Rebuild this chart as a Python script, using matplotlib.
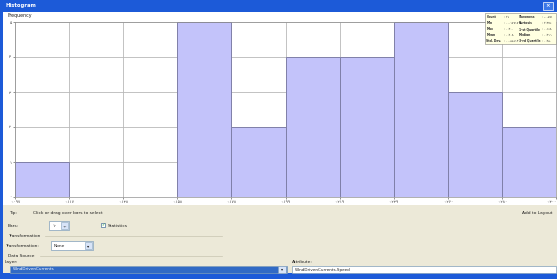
import matplotlib
matplotlib.use("Agg")
import matplotlib.pyplot as plt
from matplotlib.patches import Rectangle

# histogram data (10 bins)
counts = [1, 0, 0, 5, 2, 4, 4, 5, 3, 2]
edge_labels = ["۰.۰۹۷", "۰.۱۱۷", "۰.۱۳۸", "۰.۱۵۸", "۰.۱۷۸", "۰.۱۹۹",
               "۰.۲۱۹", "۰.۲۳۹", "۰.۲۶۰", "۰.۲۸۰", "۰.۳۰۰"]
y_labels = ["۰", "۱", "۲", "۳", "۴", "۵"]
stats_left = [("Count", ": ۲۶"), ("Min", ": ۰.۰۹۷۷۱۷"), ("Max", ": ۰.۳۰۰"),
              ("Mean", ": ۰.۲۰۸"), ("Std. Dev.", ": ۰.۰۵۵۶۱۳")]
stats_right = [("Skewness", ": -۰.۵۷۱"), ("Kurtosis", ": ۲.۳۷۶"),
               ("1-st Quartile", ": ۰.۱۶۸"), ("Median", ": ۰.۲۱۹"),
               ("3-rd Quartile", ": ۰.۲۵۰")]

W, H = 557, 279
fig = plt.figure(figsize=(W / 100, H / 100), dpi=100)
fig.patch.set_facecolor("white")

def box(x, y, w, h, fc, ec="none", lw=0.6, z=0):
    r = Rectangle((x / W, 1 - (y + h) / H), w / W, h / H, transform=fig.transFigure,
                  facecolor=fc, edgecolor=ec, linewidth=lw, zorder=z)
    fig.patches.append(r)

def txt(x, y, s, size=3.6, color="#202020", ha="left", weight="normal", z=3):
    fig.text(x / W, 1 - y / H, s, fontsize=size, color=color, ha=ha, va="center",
             weight=weight, zorder=z)

# window chrome
box(0, 0, W, 12, "#1C5AD8")
box(0, 0, 3, H, "#1C5AD8")
box(0, 273, W, 6, "#1C5AD8")
txt(6, 6, "Histogram", size=3.8, color="white", weight="bold")
box(543, 2, 10, 8, "#3B78E8", ec="white", lw=0.5)
txt(548, 6, "×", size=4, color="white", ha="center", weight="bold")

# beige control panel
box(3, 205, W - 3, 68, "#ECE9D8")
txt(8, 16, "Frequency", size=3.4)

# plot area
ax = fig.add_axes([15 / W, 1 - 197 / H, 541 / W, 175 / H])
xs = list(range(len(counts)))
ax.bar(xs, counts, width=1.0, align="edge", color="#C3C3FA",
       edgecolor="#7F7FA8", linewidth=0.7, zorder=2)
ax.set_xlim(0, len(counts))
ax.set_ylim(0, 5)
ax.set_xticks(range(len(edge_labels)))
ax.set_xticklabels(edge_labels, fontsize=3)
ax.get_xticklabels()[-1].set_horizontalalignment("right")
ax.set_yticks(range(len(y_labels)))
ax.set_yticklabels(y_labels, fontsize=3)
ax.tick_params(length=1.5, width=0.4, pad=1, colors="#404040")
ax.grid(True, color="#B8B8B8", linewidth=0.6, zorder=0)
for s in ax.spines.values():
    s.set_color("#909090")
    s.set_linewidth(0.5)
ax.set_xlabel("Speed (۱)", fontsize=3, labelpad=1, color="#404040")

# statistics box
box(485, 13, 71, 31, "#FFFFE1", ec="#808080", lw=0.4, z=5)
for i, (k, v) in enumerate(stats_left):
    y = 17.5 + i * 5.8
    txt(486.5, y, k, size=2.2, weight="bold", color="#303030", z=6)
    txt(504, y, v, size=2.2, color="#303030", z=6)
for i, (k, v) in enumerate(stats_right):
    y = 17.5 + i * 5.8
    txt(519, y, k, size=2.2, weight="bold", color="#303030", z=6)
    txt(542, y, v, size=2.2, color="#303030", z=6)

# controls
txt(9, 213, "Tip:", size=3.2)
txt(33, 213, "Click or drag over bars to select", size=3.2)
txt(522, 213, "Add to Layout", size=3.2)
txt(8, 226, "Bars:", size=3.2)
box(49, 221, 20, 9, "white", ec="#7F9DB9", lw=0.5)
txt(52, 226, "۱۰", size=3.2)
box(61, 222, 7, 7, "#D8E4F8", ec="#7F9DB9", lw=0.4)
txt(64.5, 226, "÷", size=3.2, ha="center")
box(101, 223, 4, 4, "white", ec="#1C5184", lw=0.4)
txt(103, 225, "✓", size=3, ha="center", color="#21A121")
txt(108, 226, "Statistics", size=3.2)
txt(8, 236, "Transformation", size=3.2)
fig.lines.append(plt.Line2D([45 / W, 222 / W], [1 - 236 / H] * 2, color="#C8C4B0",
                            linewidth=0.5, transform=fig.transFigure))
txt(5, 246, "Transformation:", size=3.2)
box(51, 241, 42, 9, "white", ec="#7F9DB9", lw=0.5)
txt(54, 246, "None", size=3.2)
box(85, 242, 7, 7, "#D8E4F8", ec="#7F9DB9", lw=0.4)
txt(88.5, 246, "▾", size=3.2, ha="center")
txt(8, 256, "Data Source", size=3.2)
fig.lines.append(plt.Line2D([40 / W, 222 / W], [1 - 256 / H] * 2, color="#C8C4B0",
                            linewidth=0.5, transform=fig.transFigure))
txt(5, 262, "Layer:", size=3.2)
box(10, 266, 277, 7, "#316AC5", ec="#7F9DB9", lw=0.5)
txt(13, 269.5, "WindDrivenCurrents", size=3, color="white")
box(278, 266, 8, 7, "#D8E4F8", ec="#7F9DB9", lw=0.4)
txt(282, 269.5, "▾", size=3, ha="center")
txt(292, 262, "Attribute:", size=3.2)
box(292, 266, 264, 7, "white", ec="#7F9DB9", lw=0.5)
txt(295, 269.5, "WindDrivenCurrents.Speed", size=3)

fig.savefig("out.png", dpi=100)
